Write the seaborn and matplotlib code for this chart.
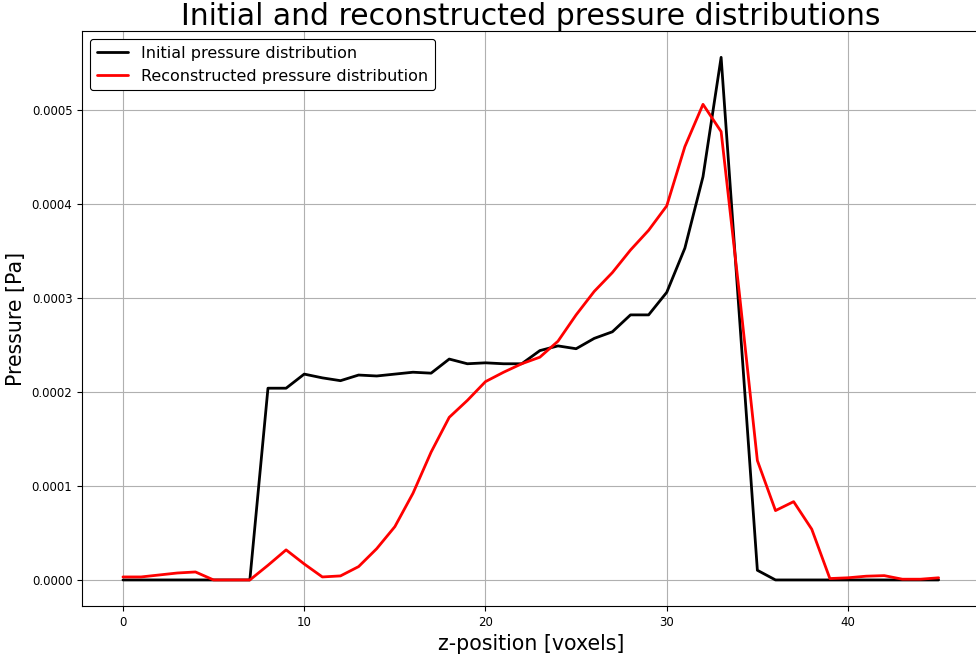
import numpy as np
import pandas as pd
import matplotlib
matplotlib.use("Agg")
import matplotlib.pyplot as plt
import seaborn as sns

z = list(range(46))
initial = [0, 0, 0, 0, 0, 0, 0, 0,
           0.000204, 0.000204, 0.000219, 0.000215, 0.000212, 0.000218, 0.000217,
           0.000219, 0.000221, 0.000220, 0.000235, 0.000230, 0.000231, 0.000230,
           0.000230, 0.000244, 0.000249, 0.000246, 0.000257, 0.000264, 0.000282,
           0.000282, 0.000306, 0.000353, 0.000429, 0.000556, 0.000283, 0.0000103,
           0, 0, 0, 0, 0, 0, 0, 0, 0, 0]
reconstructed = [0.0000032, 0.0000032, 0.0000053, 0.0000074, 0.0000085, 0, 0, 0,
                 0.0000156, 0.000032, 0.000017, 0.0000032, 0.0000043, 0.0000142,
                 0.0000333, 0.0000567, 0.0000922, 0.000136, 0.000173, 0.000191,
                 0.000211, 0.000221, 0.000230, 0.000237, 0.000254, 0.000282,
                 0.000307, 0.000327, 0.000351, 0.000372, 0.000398, 0.000461,
                 0.000506, 0.000477, 0.000306, 0.000127, 0.0000738, 0.0000833,
                 0.000054, 0.0000015, 0.0000023, 0.000004, 0.0000046, 0.0000008,
                 0.0000008, 0.0000023]

labels = ["Initial pressure distribution", "Reconstructed pressure distribution"]
colors = ["black", "red"]

sns.set_theme(style="ticks")
plt.rcParams['font.family'] = ['DejaVu Sans']

fig, ax = plt.subplots(figsize=(9.76, 6.57), dpi=100)
fig.subplots_adjust(left=0.0842, right=1.0035, top=0.9525, bottom=0.0775)

sns.lineplot(x=z, y=initial, ax=ax, color=colors[0], linewidth=2, label=labels[0])
sns.lineplot(x=z, y=reconstructed, ax=ax, color=colors[1], linewidth=2, label=labels[1])

ax.grid(True, color="#b0b0b0", linewidth=0.8)
for s in ax.spines.values():
    s.set_color("black")
    s.set_linewidth(0.8)
ax.tick_params(axis="both", labelsize=8.5, color="black", labelcolor="black", length=3.5, width=0.8)
ax.set_xticks([0, 10, 20, 30, 40])
ax.set_yticks([0, 0.0001, 0.0002, 0.0003, 0.0004, 0.0005])
ax.set_yticklabels(["0.0000", "0.0001", "0.0002", "0.0003", "0.0004", "0.0005"])
ax.set_xlabel("z-position [voxels]", fontsize=14.8, color="black")
ax.set_ylabel("Pressure [Pa]", fontsize=14.8, color="black")
ax.set_title("Initial and reconstructed pressure distributions", fontsize=21.5, color="black", pad=2)
leg = ax.legend(loc="upper left", fontsize=11.5, frameon=True, framealpha=1, edgecolor="black", fancybox=True)
leg.get_frame().set_linewidth(0.8)
for t in leg.get_texts():
    t.set_color("black")

fig.savefig("out.png", dpi=100)
